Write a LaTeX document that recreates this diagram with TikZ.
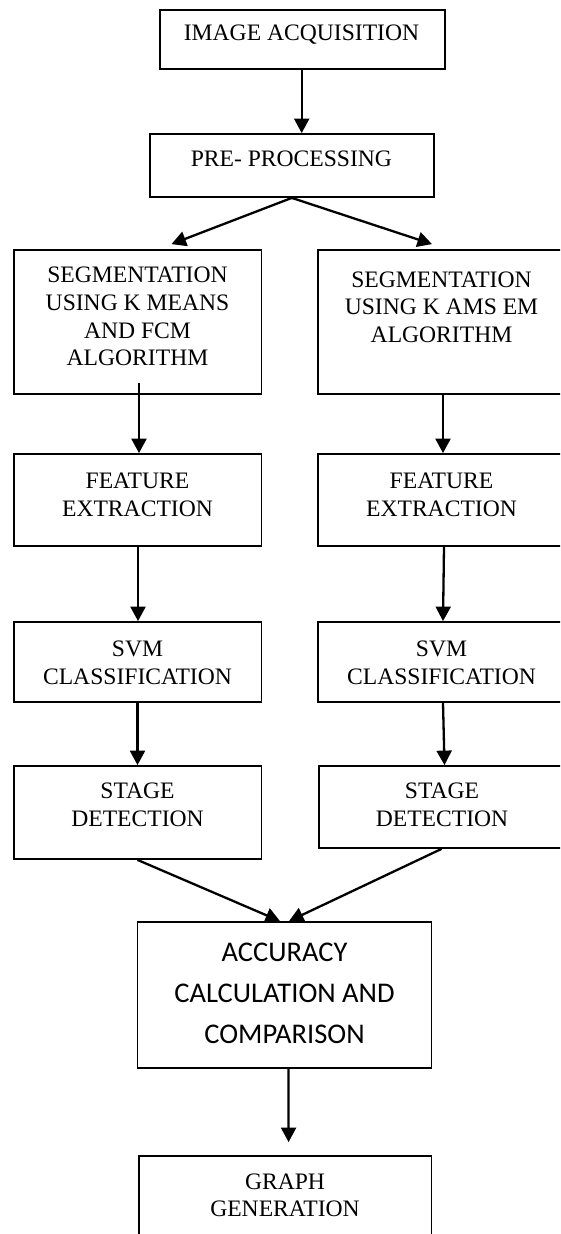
\documentclass[tikz,border=0pt]{standalone}
\usepackage{fontspec}
\setmainfont{Liberation Serif}
\newfontfamily\calfont{Carlito}
\usetikzlibrary{arrows.meta}
\begin{document}
\begin{tikzpicture}[x=1pt,y=-1pt,
  boxst/.style={draw=black,line width=1.8pt,inner sep=0pt,rectangle},
  txt/.style={inner sep=0pt,align=center,font=\fontsize{23.6}{27.7}\selectfont},
  caltxt/.style={inner sep=0pt,align=center,font=\calfont\fontsize{28.5}{41.4}\selectfont},
  arr/.style={line width=2.3pt,-{Triangle[width=15pt,length=14.5pt]}}]
\useasboundingbox (0,0) rectangle (560,1234);
\clip (0,0) rectangle (560,1234);
\fill[white] (0,0) rectangle (560,1234);
% boxes
\node[boxst,minimum width=285pt,minimum height=59pt] (b1) at (302.5,39.5) {};
\node[boxst,minimum width=284.4pt,minimum height=63pt] (b2) at (291.8,165.5) {};
\node[boxst,minimum width=247.8pt,minimum height=144pt] (segL) at (137.5,322) {};
\node[boxst,minimum width=247pt,minimum height=144pt] (segR) at (441.5,322) {};
\node[boxst,minimum width=247.8pt,minimum height=92pt] (featL) at (137.5,500) {};
\node[boxst,minimum width=247pt,minimum height=92pt] (featR) at (441.5,500) {};
\node[boxst,minimum width=247.8pt,minimum height=80pt] (svmL) at (137.5,662) {};
\node[boxst,minimum width=247pt,minimum height=80pt] (svmR) at (441.5,662) {};
\node[boxst,minimum width=247.8pt,minimum height=93pt] (stageL) at (137.5,812.5) {};
\node[boxst,minimum width=246pt,minimum height=82pt] (stageR) at (442,807) {};
\node[boxst,minimum width=293.9pt,minimum height=146pt] (acc) at (284.5,995) {};
\node[boxst,minimum width=292.8pt,minimum height=134pt] (graph) at (285,1223) {};
% texts
\node[txt] (t1) at (301.5,35) {IMAGE ACQUISITION};
\node[txt] (t2) at (291.4,159) {PRE- PROCESSING};
\node[txt] (tsegL) at (137.5,316.7) {SEGMENTATION\\USING K MEANS\\AND FCM\\ALGORITHM};
\node[txt] (tsegR) at (441.5,307) {SEGMENTATION\\USING K AMS EM\\ALGORITHM};
\node[txt] (tfeatL) at (137.5,494.8) {FEATURE\\EXTRACTION};
\node[txt] (tfeatR) at (441.5,494.8) {FEATURE\\EXTRACTION};
\node[txt] (tsvmL) at (137.5,663) {SVM\\CLASSIFICATION};
\node[txt] (tsvmR) at (441.5,663) {SVM\\CLASSIFICATION};
\node[txt] (tstageL) at (137.5,805) {STAGE\\DETECTION};
\node[txt] (tstageR) at (442,805) {STAGE\\DETECTION};
\node[caltxt] (tacc) at (284.5,993.3) {ACCURACY\\CALCULATION AND\\COMPARISON};
\node[txt] (tgraph) at (285,1195.3) {GRAPH\\GENERATION};
% connectors
\draw[arr] ([xshift=-0.8pt]b1.south) -- ([xshift=-0.8pt]b1.south |- b2.north);
\draw[arr] (b2.south) -- ([xshift=34pt,yshift=5pt]segL.north);
\draw[arr] (b2.south) -- ([xshift=-9.5pt,yshift=5pt]segR.north);
\draw[arr] ([xshift=1.5pt,yshift=12pt]segL.south) -- ([xshift=1.5pt]featL.north);
\draw[arr] ([xshift=1.5pt]segR.south) -- ([xshift=1.5pt]featR.north);
\draw[arr] ([xshift=0.5pt]featL.south) -- ([xshift=0.5pt]svmL.north);
\draw[arr] ([xshift=2.5pt]featR.south) -- ([xshift=1.5pt]svmR.north);
\draw[arr] (svmL.south) -- (stageL.north);
\draw[arr] ([xshift=1.5pt]svmR.south) -- ([xshift=2.5pt]stageR.north);
\draw[arr] (stageL.south) -- ([xshift=-4.5pt]acc.north);
\draw[arr] ([xshift=-0.5pt]stageR.south) -- ([xshift=4.5pt]acc.north);
\draw[arr] ([xshift=4pt]acc.south) -- ([xshift=3.6pt,yshift=13pt]graph.north);
\end{tikzpicture}
\end{document}
